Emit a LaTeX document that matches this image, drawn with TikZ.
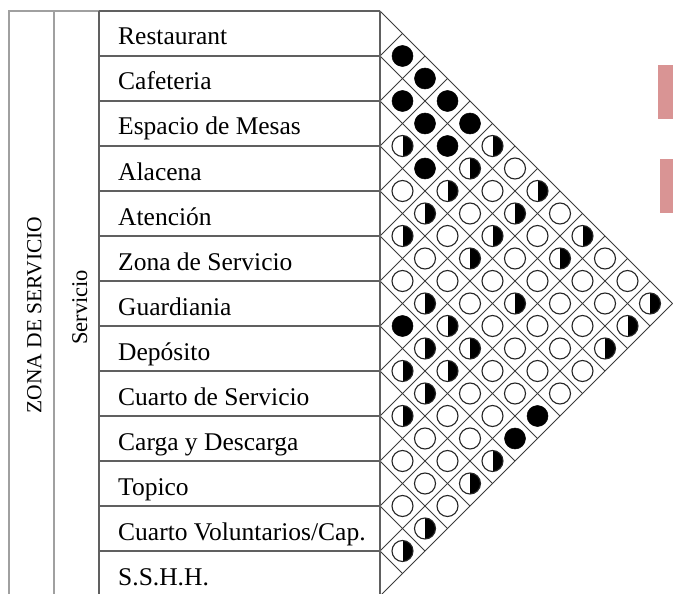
\documentclass[tikz,border=0pt]{standalone}
\usepackage{fontspec}
\setmainfont{Liberation Serif}
\definecolor{collight}{HTML}{A0A0A0}
\definecolor{coldark}{HTML}{606060}
\definecolor{gridc}{HTML}{3C3C3C}
\definecolor{pinkmark}{HTML}{D99494}
\begin{document}
\begin{tikzpicture}[x=1pt,y=-1pt]
\tikzset{
  lbl/.style={anchor=base west, inner sep=0pt, font=\fontsize{25.5}{28}\selectfont},
  rotlbl/.style={anchor=base, rotate=90, inner sep=0pt},
  gridline/.style={draw=gridc, line width=0.9pt},
  lightline/.style={draw=collight, line width=1.6pt},
  darkline/.style={draw=coldark, line width=1.4pt},
  dotbase/.style={circle, minimum size=21pt, inner sep=0pt},
  dotB/.style={dotbase, fill=black, draw=black, line width=0.5pt},
  dotO/.style={dotbase, fill=white, draw=black!85, line width=1.1pt},
  dotH/.style={dotbase, fill=white, draw=black!85, line width=1.1pt,
    path picture={\fill[black] (path picture bounding box.north) rectangle (path picture bounding box.south east);}},
  marker/.style={fill=pinkmark, draw=none}
}
\useasboundingbox (0,0) rectangle (673,594);

% diagonal grid of the relation matrix
\foreach \k in {0,...,13}{
  \draw[gridline] (380,{11+45*\k}) -- ++({(13-\k)*22.5},{(13-\k)*22.5});
  \draw[gridline] (380,{11+45*\k}) -- ++({\k*22.5},{-\k*22.5});
}

% relation symbols
\foreach \i/\j/\t in {
  0/1/B,0/2/B,0/3/B,0/4/B,0/5/H,0/6/O,0/7/H,0/8/O,0/9/H,0/10/O,0/11/O,0/12/H,
  1/2/B,1/3/B,1/4/B,1/5/H,1/6/O,1/7/H,1/8/O,1/9/H,1/10/O,1/11/O,1/12/H,
  2/3/H,2/4/B,2/5/H,2/6/O,2/7/H,2/8/O,2/9/O,2/10/O,2/11/O,2/12/H,
  3/4/O,3/5/H,3/6/O,3/7/H,3/8/O,3/9/H,3/10/O,3/11/O,3/12/O,
  4/5/H,4/6/O,4/7/O,4/8/O,4/9/O,4/10/O,4/11/O,4/12/O,
  5/6/O,5/7/H,5/8/H,5/9/H,5/10/O,5/11/O,5/12/B,
  6/7/B,6/8/H,6/9/H,6/10/O,6/11/O,6/12/B,
  7/8/H,7/9/H,7/10/O,7/11/O,7/12/H,
  8/9/H,8/10/O,8/11/O,8/12/H,
  9/10/O,9/11/O,9/12/O,
  10/11/O,10/12/H,
  11/12/H}{
  \node[dot\t] (r-\i-\j) at ({380+(\j-\i)*22.5},{11+22.5*(\i+\j+1)}) {};
}

% table
\draw[lightline] (9,600) -- (9,11) -- (99,11);
\draw[lightline] (54,11) -- (54,600);
\draw[darkline] (99,11) -- (380,11);
\draw[darkline] (99,11) -- (99,600);
\draw[darkline] (380,11) -- (380,600);
\foreach \k in {1,...,12}{
  \draw[darkline] (99,{11+45*\k}) -- (380,{11+45*\k});
}

% labels
\node[lbl] (l0) at (118,45) {Restaurant};
\node[lbl] (l1) at (118,90) {Cafeteria};
\node[lbl] (l2) at (118,135) {Espacio de Mesas};
\node[lbl] (l3) at (118,180) {Alacena};
\node[lbl] (l4) at (118,225) {Atención};
\node[lbl] (l5) at (118,270) {Zona de Servicio};
\node[lbl] (l6) at (118,315) {Guardiania};
\node[lbl] (l7) at (118,360) {Depósito};
\node[lbl] (l8) at (118,405) {Cuarto de Servicio};
\node[lbl] (l9) at (118,450) {Carga y Descarga};
\node[lbl] (l10) at (118,495) {Topico};
\node[lbl] (l11) at (118,540) {Cuarto Voluntarios/Cap.};
\node[lbl] (l12) at (118,585) {S.S.H.H.};

\node[rotlbl, font=\fontsize{21.5}{24}\selectfont] (zona) at (41.5,315) {ZONA DE SERVICIO};
\node[rotlbl, font=\fontsize{22.5}{25}\selectfont] (serv) at (87,307.5) {Servicio};

% pink marks at the right edge
\fill[marker] (658,65) rectangle (673,119);
\fill[marker] (660,159) rectangle (673,213);
\end{tikzpicture}
\end{document}
